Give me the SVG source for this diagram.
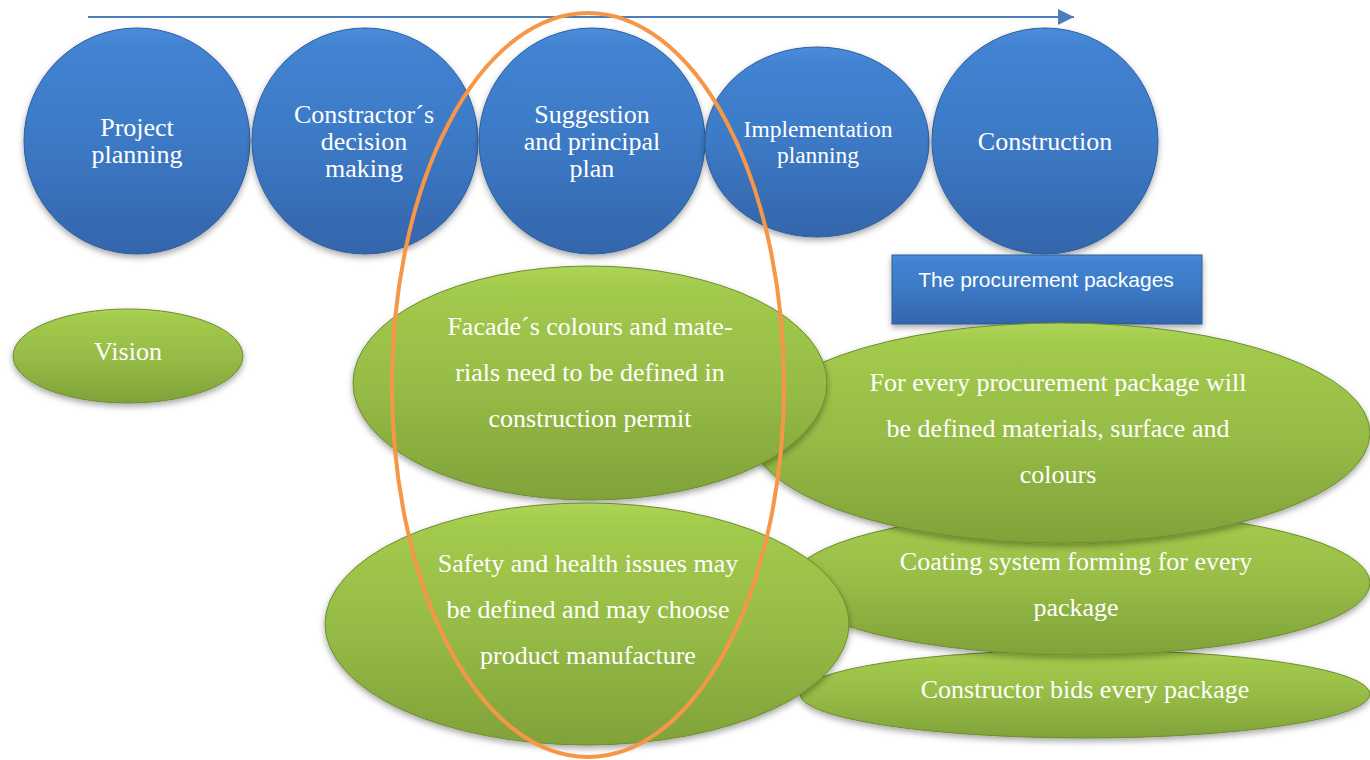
<svg xmlns="http://www.w3.org/2000/svg" width="1370" height="760" viewBox="0 0 1370 760">
<defs>
<linearGradient id="gBlue" x1="0" y1="0" x2="0" y2="1">
<stop offset="0" stop-color="#4A8DDB"/>
<stop offset="0.08" stop-color="#4283D2"/>
<stop offset="0.5" stop-color="#3C79C5"/>
<stop offset="1" stop-color="#3465AB"/>
</linearGradient>
<linearGradient id="gGreen" x1="0" y1="0" x2="0" y2="1">
<stop offset="0" stop-color="#ADD455"/>
<stop offset="0.1" stop-color="#A2CA4C"/>
<stop offset="0.5" stop-color="#97BC46"/>
<stop offset="1" stop-color="#80A23A"/>
</linearGradient>
<filter id="sh" x="-10%" y="-10%" width="120%" height="125%">
<feDropShadow dx="0" dy="3" stdDeviation="3" flood-color="#000" flood-opacity="0.35"/>
</filter>
<marker id="arrBig" markerWidth="16" markerHeight="16" refX="16" refY="8" orient="auto" markerUnits="userSpaceOnUse" viewBox="0 0 16 16">
<path d="M0,0 L16,8 L0,16 Z" fill="#4A7EBB"/>
</marker>
</defs>
<style>
.blue{fill:url(#gBlue);stroke:#2D5E9E;stroke-width:1;filter:url(#sh)}
.green{fill:url(#gGreen);stroke:#6E8C2E;stroke-width:1;filter:url(#sh)}
.t{font-family:"Liberation Serif","Times New Roman",serif;fill:#FFFFFF;text-anchor:middle;font-size:26px}
.ts{font-family:"Liberation Sans",Arial,sans-serif;fill:#FFFFFF;text-anchor:middle;font-size:21px}
</style>
<rect width="1370" height="760" fill="#FFFFFF"/>

<g id="connectors">
<line x1="88" y1="17" x2="1074" y2="17" stroke="#4A7EBB" stroke-width="2" marker-end="url(#arrBig)"/>
</g>

<g id="project-planning">
<circle class="blue" cx="137" cy="141" r="113"/>
<text class="t" x="137" y="136">Project</text>
<text class="t" x="137" y="163">planning</text>
</g>
<g id="constractor-decision">
<circle class="blue" cx="365" cy="141" r="113"/>
<text class="t" x="364" y="123">Constractor´s</text>
<text class="t" x="364" y="150">decision</text>
<text class="t" x="364" y="177">making</text>
</g>
<g id="suggestion">
<circle class="blue" cx="592" cy="141" r="113"/>
<text class="t" x="592" y="123">Suggestion</text>
<text class="t" x="592" y="150">and principal</text>
<text class="t" x="592" y="177">plan</text>
</g>
<g id="implementation">
<ellipse class="blue" cx="817" cy="142" rx="112" ry="95"/>
<text class="t" x="818" y="137" style="font-size:23.5px">Implementation</text>
<text class="t" x="818" y="163" style="font-size:23.5px">planning</text>
</g>
<g id="construction">
<circle class="blue" cx="1045" cy="141" r="113"/>
<text class="t" x="1045" y="150">Construction</text>
</g>

<g id="procurement-packages">
<rect class="blue" x="892" y="255" width="310" height="69"/>
<text class="ts" x="1046" y="287">The procurement packages</text>
</g>

<g id="vision">
<ellipse class="green" cx="128" cy="356" rx="115" ry="47"/>
<text class="t" x="128" y="360">Vision</text>
</g>

<g id="constructor-bids">
<ellipse class="green" cx="1085" cy="694" rx="285" ry="44"/>
<text class="t" x="1085" y="698">Constructor bids every package</text>
</g>
<g id="coating-system">
<ellipse class="green" cx="1080" cy="583" rx="290" ry="72"/>
<text class="t" x="1076" y="570">Coating system forming for every</text>
<text class="t" x="1076" y="616">package</text>
</g>
<g id="every-package">
<ellipse class="green" cx="1060" cy="433" rx="310" ry="110"/>
<text class="t" x="1058" y="391">For every procurement package will</text>
<text class="t" x="1058" y="437">be defined materials, surface and</text>
<text class="t" x="1058" y="483">colours</text>
</g>
<g id="facade">
<ellipse class="green" cx="590" cy="383" rx="237" ry="117"/>
<text class="t" x="590" y="335">Facade´s colours and mate-</text>
<text class="t" x="590" y="381">rials need to be defined in</text>
<text class="t" x="590" y="427">construction permit</text>
</g>
<g id="safety">
<ellipse class="green" cx="587" cy="624" rx="262" ry="121"/>
<text class="t" x="588" y="572">Safety and health issues may</text>
<text class="t" x="588" y="618">be defined and may choose</text>
<text class="t" x="588" y="664">product manufacture</text>
</g>

<g id="highlight">
<ellipse cx="588" cy="385" rx="196" ry="372" fill="none" stroke="#F79646" stroke-width="4"/>
</g>
</svg>
